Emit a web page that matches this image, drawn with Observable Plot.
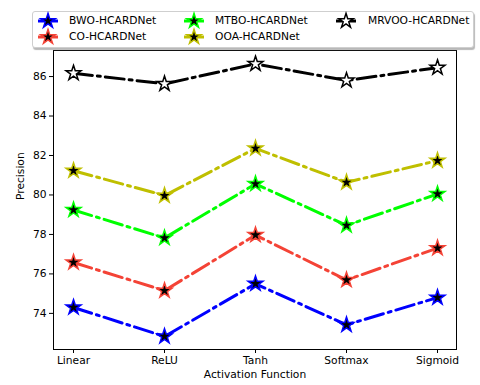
<!DOCTYPE html>
<html>
<head>
<meta charset="utf-8">
<script src="https://cdn.jsdelivr.net/npm/d3@7"></script>
<script src="https://cdn.jsdelivr.net/npm/@observablehq/plot@0.6"></script>
<style>
  body { margin: 0; background: #fff; }
  #wrap { position: relative; width: 480px; height: 385px; font-family: "DejaVu Sans", sans-serif; }
  #legend { position: absolute; left: 32px; top: 11px; width: 442px; height: 37px; border: 1px solid #cfcfcf; border-radius: 3px; background: #fff; box-shadow: 1px 2px 1px #b8b8b8; box-sizing: border-box; }
  .li { position: absolute; font-size: 10.7px; color: #000; white-space: nowrap; line-height: 12px; }
</style>
</head>
<body>
<div id="wrap"><div id="chart"></div><div id="legend"></div></div>
<script>
const categories = ["Linear", "ReLU", "Tanh", "Softmax", "Sigmoid"];
const seriesNames = ["BWO-HCARDNet", "CO-HCARDNet", "MTBO-HCARDNet", "OOA-HCARDNet", "MRVOO-HCARDNet"];
const seriesColors = ["#0000ff", "#f44336", "#00ff00", "#bfbf00", "#000000"];
const markerFills = ["#000000", "#000000", "#000000", "#000000", "#ffffff"];
const bwo = [74.3, 72.83, 75.5, 73.42, 74.8];
const co = [76.58, 75.15, 77.97, 75.69, 77.31];
const mtbo = [79.24, 77.82, 80.56, 78.46, 80.05];
const ooa = [81.23, 79.97, 82.36, 80.64, 81.74];
const mrvoo = [86.17, 85.63, 86.64, 85.8, 86.45];
const yTicks = [74, 76, 78, 80, 82, 84, 86];

const seriesValues = [bwo, co, mtbo, ooa, mrvoo];
const rows = [];
seriesNames.forEach((s, i) => categories.forEach((c, j) => rows.push({series: s, cat: c, value: seriesValues[i][j], color: seriesColors[i], fill: markerFills[i]})));

const marks = [Plot.frame({stroke: "#000", strokeWidth: 1})];
seriesNames.forEach((s) => {
  const d = rows.filter(r => r.series === s);
  marks.push(Plot.line(d, {x: "cat", y: "value", stroke: "color", strokeWidth: 3, strokeDasharray: "19,5,3,5"}));
  marks.push(Plot.dot(d, {x: "cat", y: "value", symbol: "star", r: 4.7, fill: "fill", stroke: "color", strokeWidth: 1.5}));
});
marks.push(Plot.text(["Activation Function"], {frameAnchor: "bottom", dy: 28, text: d => d, fontSize: 10.7}));
marks.push(Plot.text(["Precision"], {frameAnchor: "left", dx: -33, rotate: -90, text: d => d, fontSize: 10.7}));

const chart = Plot.plot({
  width: 480, height: 385,
  marginTop: 50, marginBottom: 36, marginLeft: 53, marginRight: 24,
  style: {fontFamily: "DejaVu Sans, sans-serif", fontSize: "10.7px", background: "#fff", overflow: "visible"},
  x: {type: "point", domain: categories, padding: 0.2, label: null, tickSize: 4, tickPadding: 3},
  y: {domain: [72.17, 87.32], ticks: yTicks, tickFormat: d3.format("d"), label: null, tickSize: 4, tickPadding: 3},
  color: {type: "identity"},
  marks
});
document.getElementById("chart").appendChild(chart);

// legend
const legend = document.getElementById("legend");
const starPath = d3.symbol(d3.symbolStar, 66)();
const positions = [[0,0],[0,1],[1,0],[1,1],[2,0]];
const colX = [15, 161, 313];
const textX = [36, 182, 335];
const rowY = [9, 25];
seriesNames.forEach((s, i) => {
  const [c, r] = positions[i];
  const svg = d3.create("svg").attr("width", 30).attr("height", 20)
    .style("position", "absolute").style("left", (colX[c] - 15) + "px").style("top", (rowY[r] - 10) + "px").style("overflow", "visible");
  svg.append("line").attr("x1", 5).attr("x2", 25).attr("y1", 10).attr("y2", 10).attr("stroke", seriesColors[i]).attr("stroke-width", 3);
  svg.append("path").attr("d", starPath).attr("transform", "translate(15,10)").attr("fill", markerFills[i]).attr("stroke", seriesColors[i]).attr("stroke-width", 1.5);
  legend.appendChild(svg.node());
  const t = document.createElement("div");
  t.className = "li";
  t.textContent = s;
  t.style.left = textX[c] + "px";
  t.style.top = (rowY[r] - 6) + "px";
  legend.appendChild(t);
});
</script>
</body>
</html>
